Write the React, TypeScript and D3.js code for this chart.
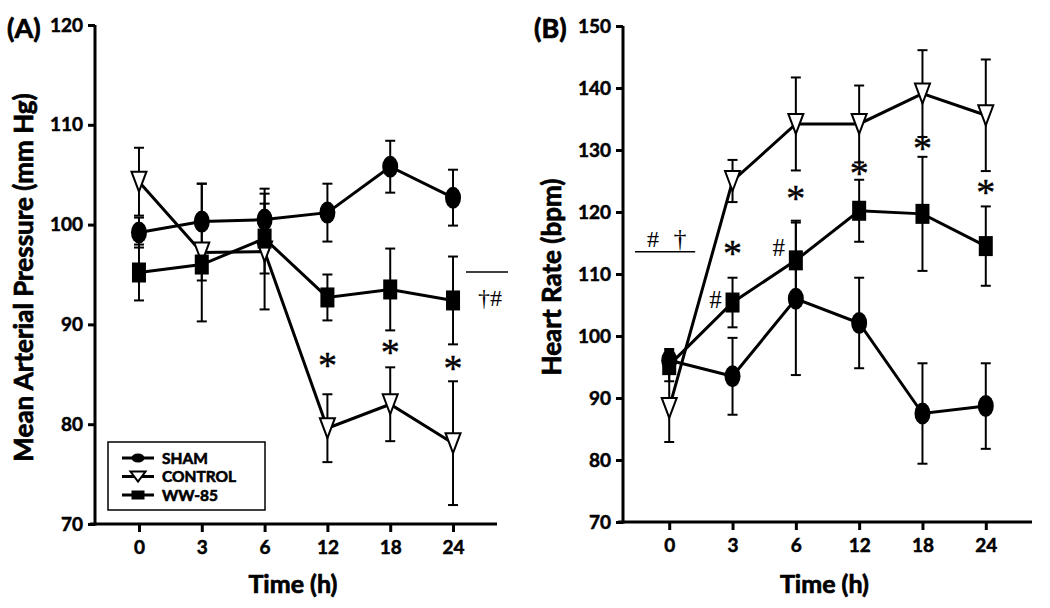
import React, { useRef, useEffect } from 'react';
import * as d3 from 'd3';

// time points (h), shared by both panels
const times = ['0', '3', '6', '12', '18', '24'];

// (A) mean arterial pressure, mm Hg (mean and SEM)
const mapSham = [99.2, 100.3, 100.5, 101.2, 105.8, 102.7];
const mapShamErr = [1.5, 3.8, 3.1, 2.9, 2.6, 2.8];
const mapControl = [104.3, 97.2, 97.3, 79.6, 82.0, 78.1];
const mapControlErr = [3.4, 6.9, 5.8, 3.4, 3.7, 6.2];
const mapWW = [95.2, 96.0, 98.6, 92.7, 93.5, 92.4];
const mapWWErr = [2.8, 1.6, 3.5, 2.3, 4.1, 4.4];

// (B) heart rate, bpm
const hrSham = [96.1, 93.5, 106.0, 102.1, 87.5, 88.7];
const hrShamErr = [1.5, 6.2, 12.3, 7.3, 8.1, 6.9];
const hrControl = [88.4, 125.0, 134.2, 134.2, 139.1, 135.6];
const hrControlErr = [5.5, 3.4, 7.5, 6.2, 7.0, 9.0];
const hrWW = [95.3, 105.4, 112.2, 120.2, 119.7, 114.5];
const hrWWErr = [2.6, 4.0, 6.4, 5.0, 9.2, 6.4];

const mapTicks = [70, 80, 90, 100, 110, 120];
const hrTicks = [70, 80, 90, 100, 110, 120, 130, 140, 150];

// significance marks (placed in data units)
const mapStars = [{ t: '12', v: 86.4 }, { t: '18', v: 87.7 }, { t: '24', v: 86.1 }];
const hrStars = [{ t: '3', v: 114.2 }, { t: '6', v: 123.1 }, { t: '12', v: 127.1 }, { t: '18', v: 131.1 }, { t: '24', v: 124.0 }];
const hrHash = [{ t: '3', v: 105.8 }, { t: '6', v: 114.2 }];

const groups = ['SHAM', 'CONTROL', 'WW-85'];

const FONT = "Lato, 'Open Sans', sans-serif";
const SERIF = "'Liberation Serif', 'DejaVu Serif', serif";

const panels = [
    {
        tag: '(A)', tagX: 7, ylabel: 'Mean Arterial Pressure (mm Hg)', ylabelX: 24,
        xRange: [95, 497], pad: 0.7, yDomain: [70, 120], yRange: [524, 25], ticks: mapTicks,
        series: [
            { name: 'CONTROL', v: mapControl, e: mapControlErr },
            { name: 'SHAM', v: mapSham, e: mapShamErr },
            { name: 'WW-85', v: mapWW, e: mapWWErr }
        ],
        stars: mapStars, hashes: [], legend: true
    },
    {
        tag: '(B)', tagX: 534, ylabel: 'Heart Rate (bpm)', ylabelX: 552,
        xRange: [623, 1032], pad: 0.73, yDomain: [70, 150], yRange: [522, 26], ticks: hrTicks,
        series: [
            { name: 'CONTROL', v: hrControl, e: hrControlErr },
            { name: 'SHAM', v: hrSham, e: hrShamErr },
            { name: 'WW-85', v: hrWW, e: hrWWErr }
        ],
        stars: hrStars, hashes: hrHash, legend: false
    }
];

// the reference type is heavier than Lato bold, so thicken with a thin stroke
function heavy(sel, size, sw = 0.6) {
    return sel.attr('font-family', FONT).attr('font-weight', 700).attr('font-size', size)
        .attr('fill', '#000').attr('stroke', '#000').attr('stroke-width', sw);
}

// marker shapes, w/h of the drawn symbol
function addMarker(sel, name, w, h) {
    if (name === 'SHAM') {
        sel.append('ellipse').attr('rx', w / 2).attr('ry', h / 2).attr('fill', '#000');
    } else if (name === 'WW-85') {
        sel.append('rect').attr('x', -w / 2).attr('y', -h / 2).attr('width', w).attr('height', h).attr('fill', '#000');
    } else {
        sel.append('path')
            .attr('d', `M${-w / 2},${-h / 2}L${w / 2},${-h / 2}L0,${h / 2}Z`)
            .attr('fill', '#fff').attr('stroke', '#000').attr('stroke-width', 2);
    }
}

function drawPanel(svg, p) {
    const x = d3.scalePoint().domain(times).range(p.xRange).padding(p.pad);
    const y = d3.scaleLinear().domain(p.yDomain).range(p.yRange);
    const g = svg.append('g');

    // axes
    const ya = g.append('g').attr('transform', `translate(${p.xRange[0]},0)`)
        .call(d3.axisLeft(y).tickValues(p.ticks).tickSize(7).tickPadding(5).tickSizeOuter(0));
    const xa = g.append('g').attr('transform', `translate(0,${p.yRange[0]})`)
        .call(d3.axisBottom(x).tickSize(8).tickPadding(9).tickSizeOuter(0));
    [ya, xa].forEach(a => {
        a.select('.domain').remove();
        a.selectAll('line').attr('stroke-width', 3);
        heavy(a.selectAll('text'), 19, 0.5);
    });
    g.append('line').attr('x1', p.xRange[0]).attr('x2', p.xRange[0])
        .attr('y1', p.yRange[1]).attr('y2', p.yRange[0] + 1.5).attr('stroke', '#000').attr('stroke-width', 3);
    g.append('line').attr('x1', p.xRange[0] - 5).attr('x2', p.xRange[1])
        .attr('y1', p.yRange[0]).attr('y2', p.yRange[0]).attr('stroke', '#000').attr('stroke-width', 3);

    // labels
    heavy(g.append('text').text(p.tag).attr('x', p.tagX).attr('y', 38), 27, 0.7);
    heavy(g.append('text').text('Time (h)')
        .attr('x', (x('0') + x('24')) / 2 - 3).attr('y', 593).attr('text-anchor', 'middle'), 25, 0.7);
    heavy(g.append('text').text(p.ylabel)
        .attr('transform', `translate(${p.ylabelX},${(p.yRange[0] + p.yRange[1]) / 2 + 3}) rotate(-90)`)
        .attr('text-anchor', 'middle').attr('dy', '0.35em'), 26, 0.7);

    // error bars
    p.series.forEach(s => {
        const eb = g.append('g').selectAll('g').data(times).join('g');
        eb.append('line').attr('x1', t => x(t)).attr('x2', t => x(t))
            .attr('y1', (t, i) => y(s.v[i] + s.e[i])).attr('y2', (t, i) => y(s.v[i] - s.e[i]))
            .attr('stroke', '#000').attr('stroke-width', 2);
        [1, -1].forEach(sg => {
            eb.append('line').attr('x1', t => x(t) - 5).attr('x2', t => x(t) + 5)
                .attr('y1', (t, i) => y(s.v[i] + sg * s.e[i])).attr('y2', (t, i) => y(s.v[i] + sg * s.e[i]))
                .attr('stroke', '#000').attr('stroke-width', 2);
        });
    });

    // lines and markers
    const line = d3.line().x(d => x(d[0])).y(d => y(d[1]));
    p.series.forEach(s => {
        g.append('path').attr('d', line(times.map((t, i) => [t, s.v[i]])))
            .attr('fill', 'none').attr('stroke', '#000').attr('stroke-width', 3);
    });
    const msize = { SHAM: [16, 22], CONTROL: [15, 20], 'WW-85': [14, 20] };
    p.series.forEach(s => {
        times.forEach((t, i) => {
            const m = g.append('g').attr('transform', `translate(${x(t)},${y(s.v[i])})`);
            addMarker(m, s.name, msize[s.name][0], msize[s.name][1]);
        });
    });

    // significance marks
    g.selectAll('text.star').data(p.stars).join('text').attr('class', 'star')
        .attr('x', d => x(d.t)).attr('y', d => y(d.v) + 18).attr('text-anchor', 'middle')
        .attr('font-family', SERIF).attr('font-size', 38).attr('stroke', '#000').attr('stroke-width', 0.4).text('*');
    g.selectAll('text.hash').data(p.hashes).join('text').attr('class', 'hash')
        .attr('x', d => x(d.t) - 17).attr('y', d => y(d.v) + 8).attr('text-anchor', 'middle')
        .attr('font-family', SERIF).attr('font-size', 25).text('#');

    if (p.legend) {
        // "† #" bracket beside the last WW-85 point
        g.append('line').attr('x1', x('24') + 13).attr('x2', x('24') + 55)
            .attr('y1', 272).attr('y2', 272).attr('stroke', '#000').attr('stroke-width', 1.5);
        g.append('text').attr('x', x('24') + 37).attr('y', 306).attr('text-anchor', 'middle')
            .attr('font-family', SERIF).attr('font-size', 24).text('†#');

        const lg = g.append('g').attr('transform', 'translate(108,442)');
        lg.append('rect').attr('width', 157).attr('height', 68)
            .attr('fill', '#fff').attr('stroke', '#000').attr('stroke-width', 1.5);
        groups.forEach((name, i) => {
            const row = lg.append('g').attr('transform', `translate(0,${16 + i * 18.5})`);
            row.append('line').attr('x1', 14).attr('x2', 46).attr('stroke', '#000').attr('stroke-width', 3);
            addMarker(row.append('g').attr('transform', 'translate(30,0)'), name, name === 'CONTROL' ? 15 : 13, name === 'CONTROL' ? 10 : 9);
            heavy(row.append('text').text(name).attr('x', 54).attr('dy', '0.36em'), 15.5, 0.6);
        });
    } else {
        g.append('line').attr('x1', p.xRange[0] + 12).attr('x2', x('0') + 26)
            .attr('y1', y(113.6)).attr('y2', y(113.6)).attr('stroke', '#000').attr('stroke-width', 1.5);
        g.append('text').attr('x', p.xRange[0] + 30).attr('y', y(113.6) - 5).attr('text-anchor', 'middle')
            .attr('font-family', SERIF).attr('font-size', 24).text('#');
        g.append('text').attr('x', p.xRange[0] + 57).attr('y', y(113.6) - 5).attr('text-anchor', 'middle')
            .attr('font-family', SERIF).attr('font-size', 26).text('†');
    }
}

export default function App() {
    const svgRef = useRef(null);

    useEffect(() => {
        const svg = d3.select(svgRef.current);
        svg.selectAll('*').remove();
        panels.forEach(p => drawPanel(svg, p));
    }, []);

    return (
        <svg ref={svgRef} width={1050} height={608}
            style={{ position: 'absolute', left: 0, top: 0, background: '#fff' }} />
    );
}
